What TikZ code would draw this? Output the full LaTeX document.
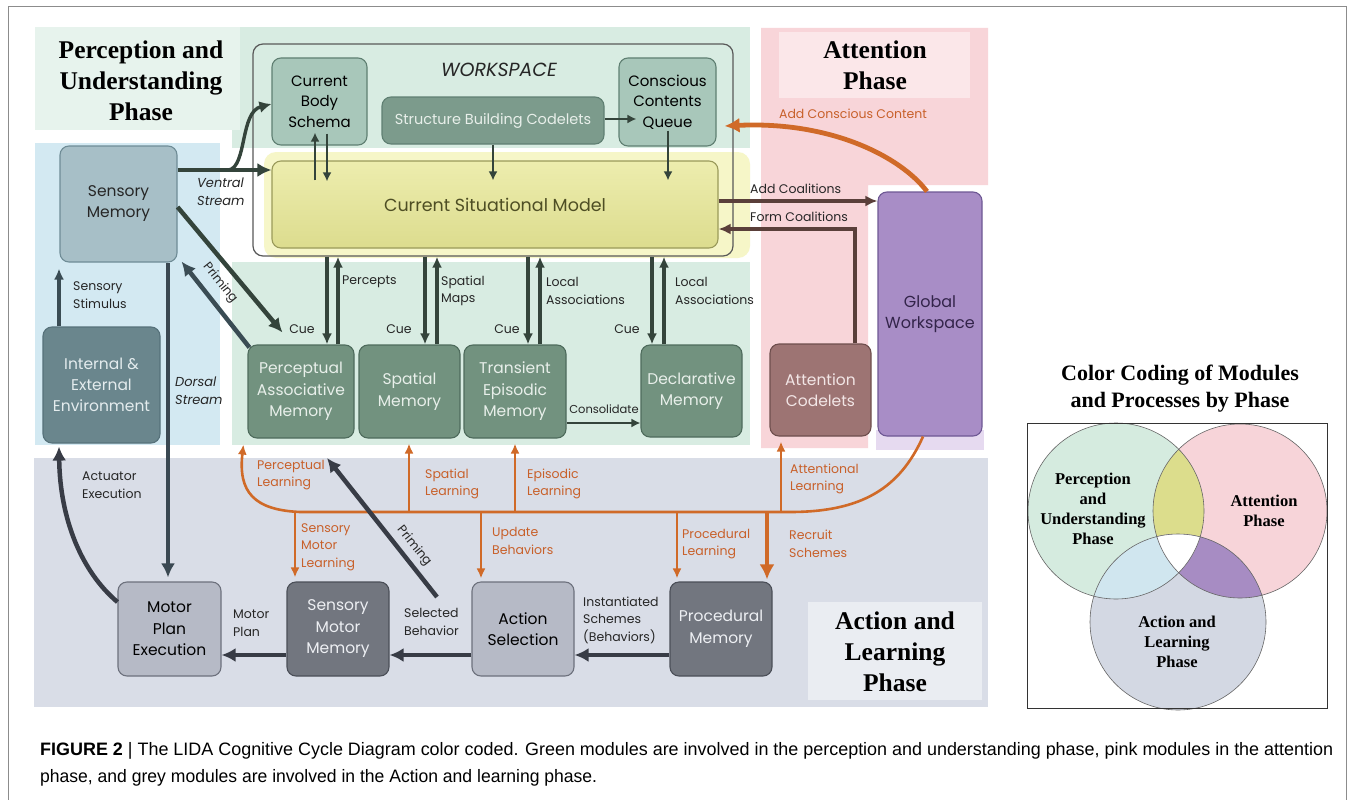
\documentclass[tikz,border=0pt]{standalone}
\usepackage{fontspec}
\usepackage{graphicx}
\setmainfont{Poppins}
\newfontfamily\ttlfont{Liberation Serif}
\newfontfamily\capfont{Liberation Sans}
\usetikzlibrary{arrows.meta,calc}
\newcommand\fsz[2]{\fontsize{#1}{#2}\selectfont}
\definecolor{bgG}{HTML}{D8ECE2}
\definecolor{bgGt}{HTML}{E7F3ED}
\definecolor{bgB}{HTML}{D3E9F2}
\definecolor{bgP}{HTML}{F8D5D9}
\definecolor{bgPt}{HTML}{FBE7E9}
\definecolor{bgA}{HTML}{D9DDE7}
\definecolor{bgAt}{HTML}{EAEDF2}
\definecolor{cLG}{HTML}{A8C7BA}
\definecolor{cLGb}{HTML}{5F7F72}
\definecolor{cDG}{HTML}{72927F}
\definecolor{cDGb}{HTML}{4E6B5C}
\definecolor{cDGt}{HTML}{E8EFEA}
\definecolor{cSB}{HTML}{7C9B8C}
\definecolor{cSM}{HTML}{A7BFC7}
\definecolor{cSMb}{HTML}{6F8C96}
\definecolor{cEnv}{HTML}{6A868D}
\definecolor{cEnvS}{HTML}{7E999F}
\definecolor{cEnvb}{HTML}{56717A}
\definecolor{cEnvt}{HTML}{E4ECEE}
\definecolor{cYt}{HTML}{4E4E24}
\definecolor{cYb}{HTML}{9A9A5A}
\definecolor{cYtop}{HTML}{EDEDAE}
\definecolor{cYbot}{HTML}{DCDC8E}
\definecolor{cGlow}{HTML}{F6F6C8}
\definecolor{cGWglow}{HTML}{E6DAF0}
\definecolor{cAC}{HTML}{9D7473}
\definecolor{cACb}{HTML}{6E4E4D}
\definecolor{cACt}{HTML}{F2E6E6}
\definecolor{cGW}{HTML}{A88DC6}
\definecolor{cGWb}{HTML}{6E5894}
\definecolor{cGWt}{HTML}{33244A}
\definecolor{cLA}{HTML}{B6BAC6}
\definecolor{cLAb}{HTML}{6D717D}
\definecolor{cDA}{HTML}{72767F}
\definecolor{cDAb}{HTML}{4B4F58}
\definecolor{cDAt}{HTML}{EDEFF3}
\definecolor{cArr}{HTML}{34443B}
\definecolor{cArrB}{HTML}{3A4C54}
\definecolor{cSl}{HTML}{383C46}
\definecolor{cSlB}{HTML}{3A4852}
\definecolor{cOr}{HTML}{D06A28}
\definecolor{cOrT}{HTML}{C8602A}
\definecolor{cCo}{HTML}{5A3F3A}
\definecolor{vG}{HTML}{D5EBDF}
\definecolor{vP}{HTML}{F7D4D9}
\definecolor{vB}{HTML}{D3D8E3}
\definecolor{vY}{HTML}{DCDD8C}
\definecolor{vC}{HTML}{D0E6EF}
\definecolor{vV}{HTML}{A78CC3}
\begin{document}
\begin{tikzpicture}[x=1pt,y=-1pt,
  mod/.style={rounded corners=9pt, line width=1.1pt, align=center, inner sep=2pt},
  lgreen/.style={mod, fill=cLG, draw=cLGb, text=black, font=\fsz{15}{20.5}},
  dgreen/.style={mod, fill=cDG, draw=cDGb, text=cDGt, font=\fsz{15.5}{21.5}},
  lgray/.style={mod, fill=cLA, draw=cLAb, text=black, font=\fsz{15.5}{21.5}},
  dgray/.style={mod, fill=cDA, draw=cDAb, text=cDAt, font=\fsz{15.5}{21.5}},
  darr/.style={draw=cArr, line width=4.5pt, -{Latex[length=14pt,width=14pt]}},
  darrS/.style={draw=cSl, line width=4.5pt, -{Latex[length=14pt,width=14pt]}},
  marr/.style={draw=cArr, line width=3.6pt, -{Latex[length=11pt,width=10pt]}},
  tarr/.style={draw=cArr, line width=2.2pt, -{Latex[length=9pt,width=9pt]}},
  carr/.style={draw=cCo, line width=3.6pt, -{Latex[length=12pt,width=11pt]}},
  oarr/.style={draw=cOr, line width=2.6pt, -{Latex[length=10pt,width=9pt]}},
  oarrT/.style={draw=cOr, line width=4.8pt, -{Latex[length=15pt,width=15pt]}},
  lbl/.style={font=\fsz{12.5}{17.5}, align=left, inner sep=0pt, anchor=west, text=black!85},
  ilbl/.style={lbl, font=\fsz{13}{18}\itshape},
  olbl/.style={lbl, text=cOrT},
  ttl/.style={font=\ttlfont\bfseries\fsz{25.5}{31}, align=center, inner sep=0pt},
  vtxt/.style={font=\ttlfont\bfseries\fsz{16.5}{20}, align=center, inner sep=0pt}
]
\useasboundingbox (0,0) rectangle (1354,800);
\fill[white] (0,0) rectangle (1354,800);
\draw[black!45, line width=1pt] (8,800) -- (8,7) -- (1346,7) -- (1346,800);
% ---------- phase backgrounds
\fill[bgG] (35,27) rectangle (750,445);
\fill[white] (35,130) rectangle (232,445);
\fill[white] (220,148) rectangle (750,262);
\fill[bgB] (35,143) rectangle (220,445);
\fill[bgGt] (35,27) rectangle (240,130);
\fill[bgP] (761,28) -- (988,28) -- (988,185) -- (868,185) -- (868,448) -- (761,448) -- cycle;
\fill[bgPt] (779,32) rectangle (970,98);
\fill[bgA] (34,458) rectangle (988,707);
\fill[bgAt] (808,602) rectangle (982,700);
% glows
\fill[cGlow, rounded corners=12pt] (264,152) rectangle (750,258);
\fill[cGWglow] (876,430) rectangle (984,450);
% ---------- workspace
\node[draw=black!65, line width=1.2pt, rounded corners=10pt, minimum width=480pt, minimum height=212pt, inner sep=0pt] (ws) at (493,150) {};
\node[font=\fsz{19}{22}\itshape, text=black!85] (wsl) at (499,70) {WORKSPACE};
\node[lgreen, minimum width=95pt, minimum height=87pt] (cbs) at (319.5,101.5) {Current\\Body\\Schema};
\node[mod, fill=cSB, draw=cLGb, text=cDGt, minimum width=222pt, minimum height=47pt, font=\fsz{14.5}{19}] (sbc) at (493,120.5) {Structure Building Codelets};
\node[lgreen, minimum width=97pt, minimum height=88pt] (ccq) at (667.5,102) {Conscious\\Contents\\Queue};
\node[mod, top color=cYtop, bottom color=cYbot, draw=cYb, text=cYt, minimum width=446pt, minimum height=87pt, font=\fsz{17.5}{22}] (csm) at (495,204.5) {Current Situational Model};
% ---------- perception modules
\node[mod, fill=cSM, draw=cSMb, text=black!85, font=\fsz{15.5}{21}, minimum width=117pt, minimum height=116pt] (sm) at (118.5,204) {Sensory\\Memory};
\node[mod, fill=cEnv, draw=cEnvb, text=cEnvt, font=\fsz{15.5}{21}, minimum width=117pt, minimum height=116pt,
  path picture={\foreach \k in {0,...,14} \fill[cEnvS] (40,331+8*\k) rectangle (165,335+8*\k);}] (env) at (101.5,385) {Internal \&\\External\\Environment};
\node[dgreen, minimum width=106pt, minimum height=93pt] (pam) at (301,391.5) {Perceptual\\Associative\\Memory};
\node[dgreen, minimum width=101pt, minimum height=93pt] (spm) at (409.5,391.5) {Spatial\\Memory};
\node[dgreen, minimum width=102pt, minimum height=93pt] (tem) at (515,391.5) {Transient\\Episodic\\Memory};
\node[dgreen, minimum width=101pt, minimum height=92pt] (dm) at (691.5,391) {Declarative\\Memory};
% ---------- attention modules
\node[mod, fill=cAC, draw=cACb, text=cACt, font=\fsz{15.5}{21.5}, minimum width=101pt, minimum height=92pt] (ac) at (820.5,390) {Attention\\Codelets};
\node[mod, fill=cGW, draw=cGWb, text=cGWt, font=\fsz{16}{21.5}, minimum width=104pt, minimum height=244pt] (gw) at (930,314) {Global\\Workspace};
% ---------- action modules
\node[lgray, minimum width=103pt, minimum height=94pt] (mpe) at (169.5,629) {Motor\\Plan\\Execution};
\node[dgray, minimum width=102pt, minimum height=94pt] (smm) at (338,629) {Sensory\\Motor\\Memory};
\node[lgray, minimum width=102pt, minimum height=94pt] (as) at (523,629) {Action\\Selection};
\node[dgray, minimum width=102pt, minimum height=94pt] (pm) at (721,629) {Procedural\\Memory};
% ---------- workspace arrows
\coordinate (vs) at (229,170);
\draw[darr] (sm.east |- 0,170) -- (csm.west |- 0,170);
\draw[draw=cArr, line width=3.4pt, -{Latex[length=12pt,width=12pt]}] (vs) .. controls (247,166) and (240,112) .. (cbs.west |- 0,104);
\draw[tarr] ($(csm.north -| 315,0)+(0,20)$) -- ($(cbs.south -| 315,0)+(0,-13)$);
\draw[tarr] ($(cbs.south -| 327,0)+(0,-12)$) -- ($(csm.north -| 327,0)+(0,21)$);
\draw[tarr] (sbc.south -| 493,0) -- ($(csm.north -| 493,0)+(0,20)$);
\draw[tarr] (sbc.east |- 0,119) -- ($(ccq.west |- 0,119)+(18,0)$);
\draw[tarr] ($(ccq.south -| 668,0)+(0,-16)$) -- ($(csm.north -| 668,0)+(0,20)$);
\foreach \n/\a/\b in {pam/327/338, spm/425/437, tem/528/540, dm/652/664} {
  \draw[marr] (ws.south -| \a,0) -- (\n.north -| \a,0);
  \draw[marr] (\n.north -| \b,0) -- (ws.south -| \b,0);
}
\draw[tarr] (tem.east |- 0,423) -- (dm.west |- 0,423);
% perception arrows
\draw[darr] (sm.east |- 0,207) -- ($(pam.north west)+(35,-12)$);
\draw[darr, draw=cArrB] ($(pam.north west)+(2,3)$) -- ($(sm.south east)+(4,-1)$);
\draw[marr, draw=cArrB] (env.north -| 59,0) -- ($(sm.south -| 59,0)+(0,6)$);
\draw[darrS, draw=cSlB] (sm.south -| 168,0) -- ($(mpe.north -| 168,0)+(0,-4)$);
% coalitions
\draw[carr] (csm.east |- 0,201) -- (gw.west |- 0,201);
\draw[carr] (ac.north -| 855,0) |- (csm.east |- 0,229);
% conscious content
\draw[oarrT] (gw.north -| 927,0) .. controls (900,156) and (830,121) .. ($(ccq.east |- 0,126)+(8,0)$);
% learning bus
\coordinate (busR) at (790,512);
\coordinate (busL) at (300,512);
\draw[oarr] (gw.south -| 923,0) .. controls (900,488) and (862,512) .. (busR) -- (busL) .. controls (254,510) and (238,492) .. ($(pam.south west)+(-4,6)$);
\draw[oarr] (busL -| 409,0) -- ($(spm.south -| 409,0)+(0,5)$);
\draw[oarr] (busL -| 515,0) -- ($(tem.south -| 515,0)+(0,5)$);
\draw[oarr] (busL -| 781,0) -- ($(ac.south -| 781,0)+(0,5)$);
\draw[oarr] (busL -| 295,0) -- ($(smm.north -| 295,0)+(0,-4)$);
\draw[oarr] (busL -| 481,0) -- ($(as.north -| 481,0)+(0,-3)$);
\draw[oarr] (busL -| 677,0) -- ($(pm.north -| 677,0)+(0,-3)$);
\draw[oarrT] (busL -| 767,0) -- ($(pm.north -| 767,0)+(0,-2)$);
% action arrows
\draw[darrS] (mpe.west |- 0,602) .. controls (82,572) and (60,520) .. ($(env.south -| 59,0)+(0,3)$);
\draw[darrS] (smm.west |- 0,655) -- (mpe.east |- 0,655);
\draw[darrS] (as.west |- 0,655) -- (smm.east |- 0,655);
\draw[darrS] (pm.west |- 0,655) -- (as.east |- 0,655);
\coordinate (pb1) at (437,597);
\coordinate (pb2) at (327,458);
\draw[darrS] (pb1) -- (pb2);
% ---------- labels
\node[ilbl] (l1) at (197,192) {Ventral\\Stream};
\node[lbl, anchor=center, rotate=-51.5] (l2) at (220,283) {Priming};
\node[lbl] (l3) at (73,295) {Sensory\\Stimulus};
\node[ilbl] (l4) at (175,391) {Dorsal\\Stream};
\node[lbl] (l5) at (82,485) {Actuator\\Execution};
\node[lbl] (l6) at (233,623) {Motor\\Plan};
\node[lbl] (l7) at (404,622) {Selected\\Behavior};
\node[lbl, anchor=center, rotate=-51.5] (l8) at (414,546) {Priming};
\node[lbl] (l9) at (583,620) {Instantiated\\Schemes\\(Behaviors)};
\node[lbl] (l10) at (342,282) {Percepts};
\node[lbl] (l11) at (441,291) {Spatial\\Maps};
\node[lbl] (l12) at (546,291) {Local\\Associations};
\node[lbl] (l13) at (675,291) {Local\\Associations};
\node[lbl, anchor=center] (c1) at (302,329) {Cue};
\node[lbl, anchor=center] (c2) at (399,329) {Cue};
\node[lbl, anchor=center] (c3) at (507,329) {Cue};
\node[lbl, anchor=center] (c4) at (627,329) {Cue};
\node[lbl, anchor=center, font=\fsz{11.5}{14}] (l14) at (604,409) {Consolidate};
\node[lbl] (l15) at (750,189) {Add Coalitions};
\node[lbl] (l16) at (750,217) {Form Coalitions};
\node[olbl, anchor=center] (o0) at (853,114) {Add Conscious Content};
\node[olbl] (o1) at (257,475) {Perceptual\\Learning};
\node[olbl] (o2) at (425,484) {Spatial\\Learning};
\node[olbl] (o3) at (527,484) {Episodic\\Learning};
\node[olbl] (o4) at (790,479) {Attentional\\Learning};
\node[olbl] (o5) at (301,547) {Sensory\\Motor\\Learning};
\node[olbl] (o6) at (492,541) {Update\\Behaviors};
\node[olbl] (o7) at (682,544) {Procedural\\Learning};
\node[olbl] (o8) at (789,544) {Recruit\\Schemes};
% ---------- phase titles
\node[ttl] (t1) at (141,81) {Perception and\\Understanding\\Phase};
\node[ttl] (t2) at (875,65.5) {Attention\\Phase};
\node[ttl] (t3) at (895,652) {Action and\\Learning\\Phase};
% ---------- legend
\node[font=\ttlfont\bfseries\fsz{22}{27}, align=center, inner sep=0pt] (lt) at (1180,389) {Color Coding of Modules\\and Processes by Phase};
\coordinate (cG) at (1116,511);
\coordinate (cP) at (1240,511);
\coordinate (cB) at (1178,622);
\fill[vG] (cG) circle[radius=88pt];
\fill[vP] (cP) circle[radius=87pt];
\fill[vB] (cB) circle[radius=88pt];
\begin{scope}\clip (cG) circle[radius=88pt]; \fill[vY] (cP) circle[radius=87pt]; \end{scope}
\begin{scope}\clip (cG) circle[radius=88pt]; \fill[vC] (cB) circle[radius=88pt]; \end{scope}
\begin{scope}\clip (cP) circle[radius=87pt]; \fill[vV] (cB) circle[radius=88pt]; \end{scope}
\begin{scope}\clip (cG) circle[radius=88pt]; \clip (cP) circle[radius=87pt]; \fill[white] (cB) circle[radius=88pt]; \end{scope}
\draw[black!60, line width=0.6pt] (cG) circle[radius=88pt] (cP) circle[radius=87pt] (cB) circle[radius=88pt];
\draw[black!80, line width=0.8pt] (1027,423) rectangle (1327,708);
\node[vtxt] (vt1) at (1093,509) {Perception\\and\\Understanding\\Phase};
\node[vtxt] (vt2) at (1264,510.5) {Attention\\Phase};
\node[vtxt] (vt3) at (1177,642) {Action and\\Learning\\Phase};
% ---------- caption
\node[anchor=base west, inner sep=0pt] (cap1) at (40,755) {\resizebox{1293pt}{\height}{\capfont\fsz{18}{22}\textbf{FIGURE 2}\;|\;The LIDA Cognitive Cycle Diagram color coded. Green modules are involved in the perception and understanding phase, pink modules in the attention}};
\node[anchor=base west, inner sep=0pt] (cap2) at (40,782) {\resizebox{557pt}{\height}{\capfont\fsz{18}{22}phase, and grey modules are involved in the Action and learning phase.}};
\end{tikzpicture}
\end{document}
